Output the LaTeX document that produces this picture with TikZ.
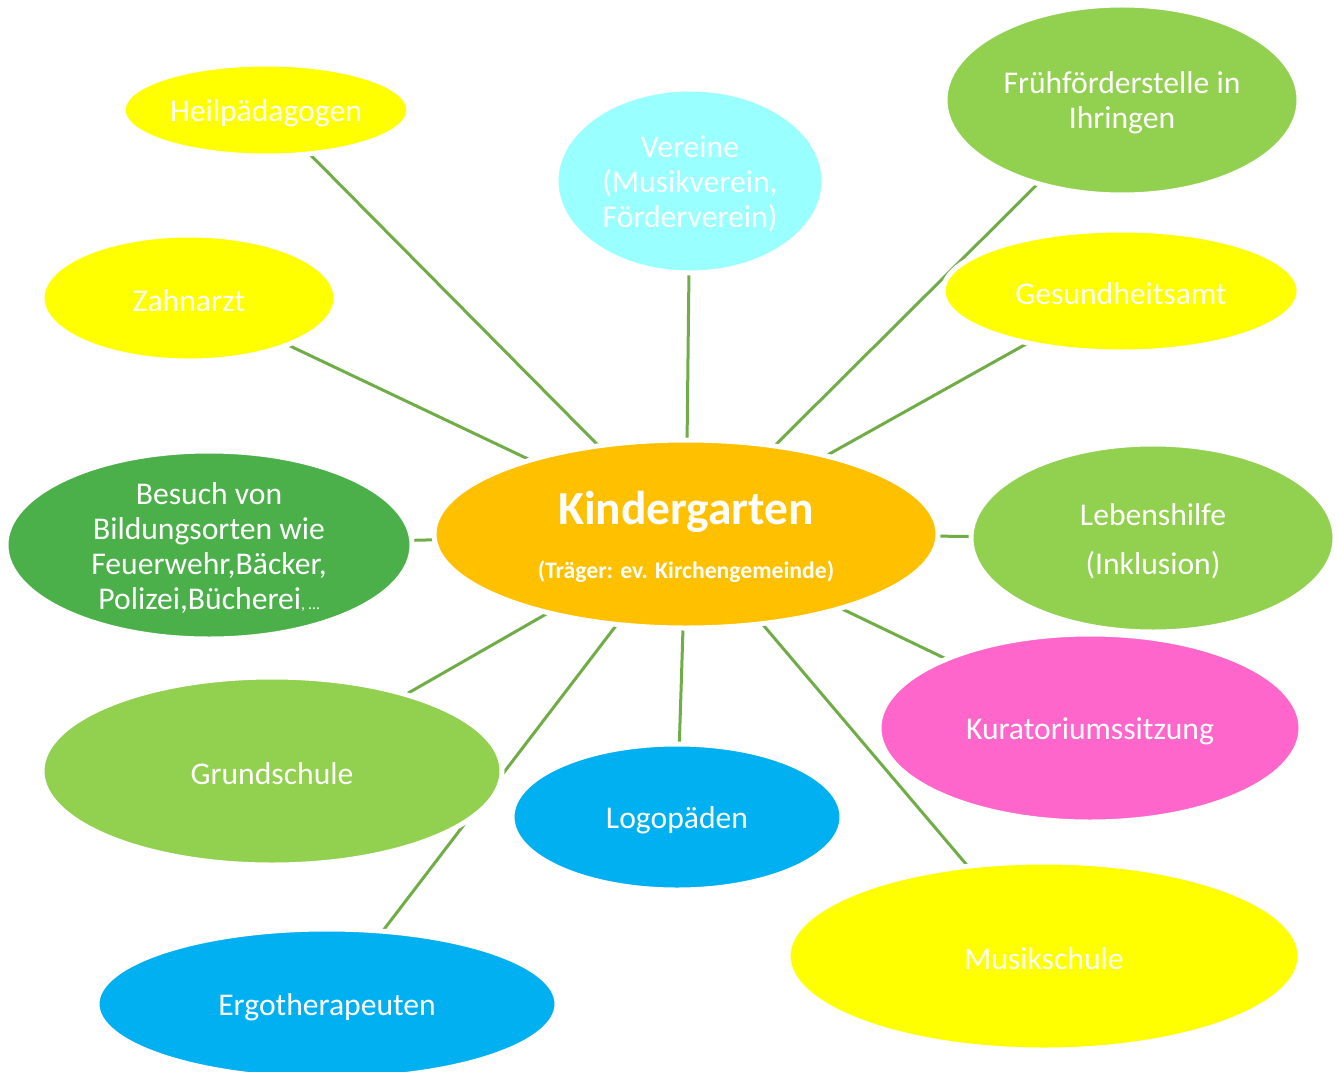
\documentclass[tikz,border=0pt]{standalone}
\usepackage{fontspec}
\setmainfont{Carlito}
\usetikzlibrary{shapes.geometric,backgrounds}
\definecolor{cyel}{HTML}{FFFF00}
\definecolor{ccya}{HTML}{99FFFF}
\definecolor{clgr}{HTML}{92D050}
\definecolor{cdgr}{HTML}{4BB04A}
\definecolor{corg}{HTML}{FFC000}
\definecolor{cpnk}{HTML}{FF66CC}
\definecolor{cblu}{HTML}{00B0F0}
\definecolor{cline}{HTML}{70AD47}
\tikzset{
  ell/.style 2 args={ellipse, draw=white, line width=0.1cm, inner sep=0pt,
    minimum width=#1*0.02cm, minimum height=#2*0.02cm},
  txt/.style={text=white, font=\fontsize{18}{19.8}\selectfont, align=center, inner sep=0pt, yshift=-0.06cm},
  conn/.style={draw=cline, line width=0.06cm},
}
\begin{document}
\begin{tikzpicture}[x=0.02cm,y=-0.02cm]
\useasboundingbox (0,0) rectangle (1337,1071);
% satellites
\node[ell={286}{92}, fill=cyel, label={[txt]center:Heilpädagogen}] (her) at (266,110) {};
\node[ell={268}{184}, fill=ccya, label={[txt]center:{Vereine\\(Musikverein,\\Förderverein)}}] (ver) at (690,181) {};
\node[ell={354}{190}, fill=clgr, label={[txt]center:{Frühförderstelle in\\Ihringen}}] (fru) at (1122,100) {};
\node[ell={294}{126}, fill=cyel, label={[txt]center:Zahnarzt}] (zah) at (189,298) {};
\node[ell={356}{122}, fill=cyel, label={[txt]center:Gesundheitsamt}] (ges) at (1121,291) {};
\node[ell={406}{188}, fill=cdgr, label={[txt]center:{Besuch von\\Bildungsorten wie\\Feuerwehr,Bäcker,\\Polizei,Bücherei{\fontsize{9}{10}\selectfont, …}}}] (bes) at (209,545) {};
\node[ell={364}{188}, fill=clgr, label={[txt]center:{Lebenshilfe\\[8pt](Inklusion)}}] (leb) at (1153,538) {};
\node[ell={422}{188}, fill=cpnk, label={[txt]center:Kuratoriumssitzung}] (kur) at (1090,728) {};
\node[ell={460}{188}, fill=clgr, label={[txt]center:Grundschule}] (gru) at (272,771) {};
\node[ell={330}{146}, fill=cblu, label={[txt]center:Logopäden}] (log) at (677,817) {};
\node[ell={512}{188}, fill=cyel, label={[txt]center:Musikschule}] (mus) at (1044,956) {};
\node[ell={460}{150}, fill=cblu, label={[txt]center:Ergotherapeuten}] (erg) at (327,1004) {};
% centre
\node[ell={504}{188}, fill=corg,
  label={[txt, font=\fontsize{27}{30}\selectfont\bfseries, yshift=0.5cm]center:Kindergarten},
  label={[txt, font=\fontsize{13.5}{16}\selectfont\bfseries, yshift=-0.7cm]center:(Träger: ev. Kirchengemeinde)}] (kg) at (686,534) {};
% connectors
\begin{scope}[on background layer]
\foreach \n in {her,ver,fru,zah,ges,bes,leb,kur,gru,log,mus,erg}
  \draw[conn] (kg.center) -- (\n.center);
\end{scope}
\end{tikzpicture}
\end{document}
